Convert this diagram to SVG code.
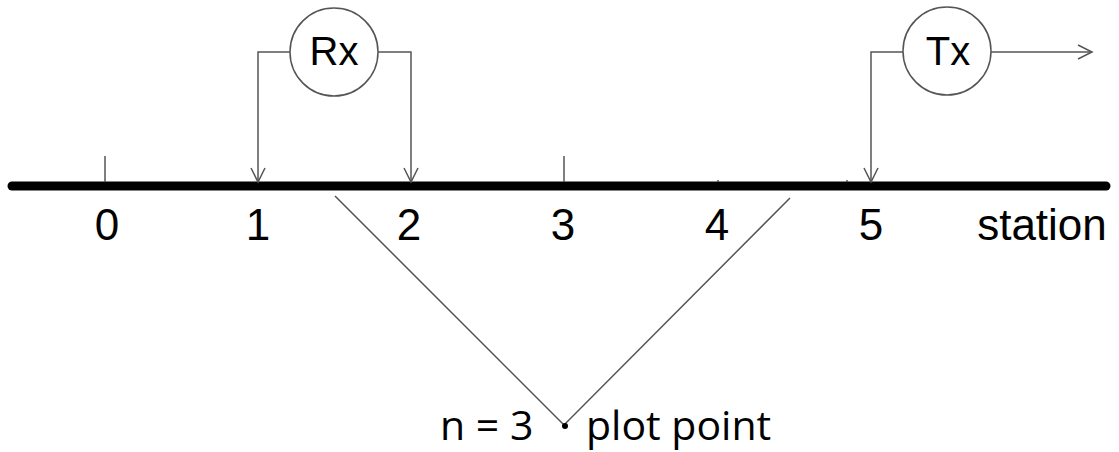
<svg xmlns="http://www.w3.org/2000/svg" width="1119" height="452" viewBox="0 0 1119 452">
<style>
.ln{fill:none;stroke:#555;stroke-width:1.5}
.lbl{font-family:"Liberation Sans",Arial,sans-serif;font-size:44px;fill:#000;text-anchor:middle}
.bt{font-family:"Open Sans","Liberation Sans",sans-serif;font-size:41px;fill:#000}
.circ{fill:#fff;stroke:#555;stroke-width:1.5}
.nt{font-family:"Liberation Sans",Arial,sans-serif;font-size:40px;fill:#000;text-anchor:middle}
</style>
<defs>
<marker id="ah" viewBox="0 0 20 20" refX="18" refY="10" markerWidth="20" markerHeight="20" markerUnits="userSpaceOnUse" orient="auto">
<polyline points="4,3 18,10 4,17" fill="none" stroke="#555" stroke-width="1.5"/>
</marker>
</defs>
<g id="axis">
<line x1="12" y1="186" x2="1106" y2="186" stroke="#000" stroke-width="9" stroke-linecap="round"/>
<line x1="105" y1="156" x2="105" y2="182" class="ln"/>
<line x1="564" y1="156" x2="564" y2="182" class="ln"/>
<line x1="718" y1="180" x2="718" y2="182" class="ln"/>
<line x1="847" y1="180" x2="847" y2="182" class="ln"/>
<text class="lbl" x="107" y="240">0</text>
<text class="lbl" x="258" y="240">1</text>
<text class="lbl" x="409" y="240">2</text>
<text class="lbl" x="563" y="240">3</text>
<text class="lbl" x="717" y="240">4</text>
<text class="lbl" x="871" y="240">5</text>
<text class="lbl" x="1042" y="240">station</text>
</g>
<g id="connectors">
<polyline class="ln" points="290,52 258,52 258,182" marker-end="url(#ah)"/>
<polyline class="ln" points="378,52 411,52 411,182" marker-end="url(#ah)"/>
<polyline class="ln" points="903,52 871,52 871,182" marker-end="url(#ah)"/>
<line class="ln" x1="991" y1="52" x2="1092" y2="52" marker-end="url(#ah)"/>
<polyline class="ln" points="335,196 564,425 790,198"/>
</g>
<g id="rx">
<circle class="circ" cx="334" cy="52" r="44"/>
<text class="nt" x="334" y="65">Rx</text>
</g>
<g id="tx">
<circle class="circ" cx="947" cy="51" r="44"/>
<text class="nt" x="948" y="65">Tx</text>
</g>
<g id="plot">
<circle cx="565" cy="426" r="3" fill="#000"/>
<text class="bt" x="440" y="440">n = 3</text>
<text class="bt" x="586" y="440">plot point</text>
</g>
</svg>
